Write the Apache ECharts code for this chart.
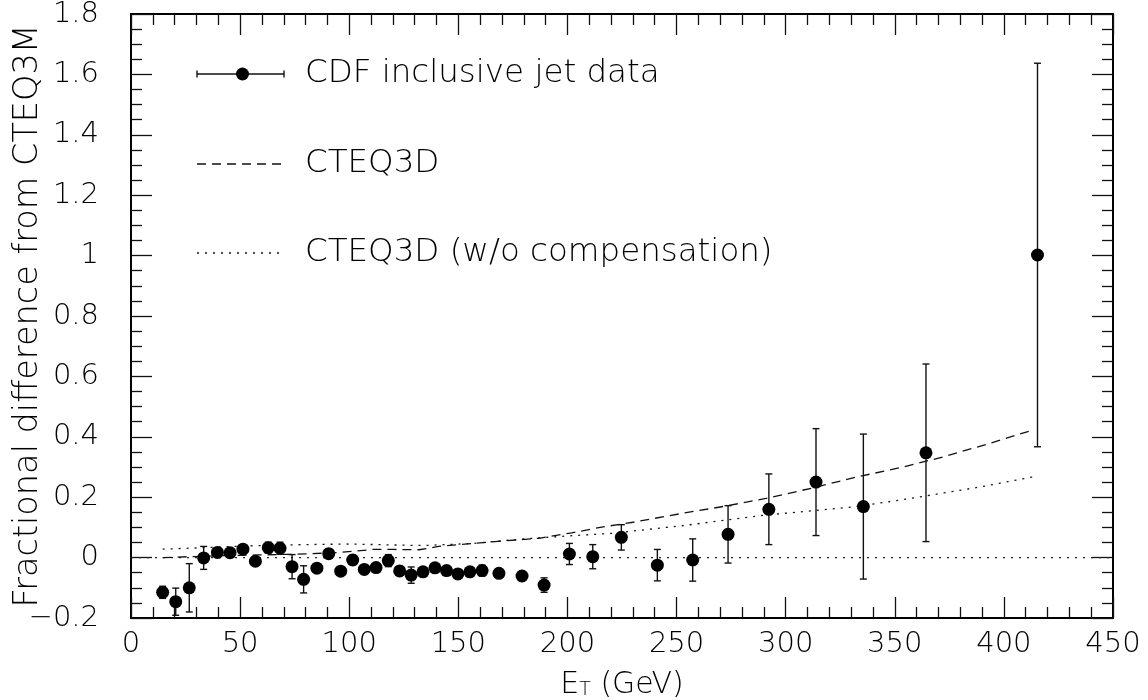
<!DOCTYPE html>
<html>
<head>
<meta charset="utf-8">
<script src="https://cdn.jsdelivr.net/npm/echarts@6/dist/echarts.min.js"></script>
<style>
html,body{margin:0;padding:0;background:#fff;}
#chart{width:1148px;height:700px;}
</style>
</head>
<body>
<div id="chart"></div>
<script>
// ---- data ----
const eT = [14.5,20.5,26.7,33.3,39.6,45.4,51.3,57.0,62.9,68.3,73.8,79.1,85.2,90.6,96.1,101.6,106.9,112.3,117.9,123.1,128.4,133.8,139.3,144.6,149.8,155.3,160.9,168.6,179.2,189.3,200.9,211.6,224.7,241.2,257.4,273.6,292.3,313.9,335.6,364.3,415.4];
const fracDiff = [-0.115,-0.146,-0.100,-0.001,0.017,0.016,0.028,-0.012,0.033,0.031,-0.030,-0.072,-0.035,0.013,-0.045,-0.008,-0.039,-0.033,-0.010,-0.044,-0.058,-0.047,-0.034,-0.043,-0.054,-0.047,-0.043,-0.052,-0.061,-0.091,0.012,0.003,0.067,-0.025,-0.008,0.077,0.160,0.250,0.169,0.347,1.002];
const fracErr = [0.020,0.045,0.080,0.038,0.010,0.010,0.010,0.012,0.018,0.020,0.040,0.045,0.010,0.015,0.008,0.015,0.010,0.010,0.020,0.015,0.027,0.010,0.010,0.010,0.010,0.010,0.018,0.010,0.010,0.024,0.035,0.040,0.042,0.052,0.070,0.095,0.117,0.177,0.240,0.294,0.635];

const cteq3dX = [14.5,26,40,59,74,90,97,111,120,132,141,157,172,187,202,215,230,253,272,291,312,332,352,372,392,414];
const cteq3dY = [0.000,0.003,0.006,0.009,0.011,0.015,0.018,0.027,0.027,0.026,0.037,0.047,0.056,0.064,0.082,0.100,0.117,0.147,0.170,0.196,0.230,0.266,0.297,0.333,0.375,0.424];

const noCompX = [14.5,30,54,80,100,119,134,157,180,203,220,253,291,330,352,364,390,414];
const noCompY = [0.028,0.032,0.039,0.043,0.045,0.042,0.040,0.047,0.062,0.073,0.080,0.106,0.141,0.167,0.190,0.204,0.235,0.268];

const zeroX = [0, 450];
const zeroY = [0, 0];

const yTickValues = [-0.2,0,0.2,0.4,0.6,0.8,1,1.2,1.4,1.6,1.8];
const yTickLabels = ['\u22120.2','0','0.2','0.4','0.6','0.8','1','1.2','1.4','1.6','1.8'];
const xTickValues = [0,50,100,150,200,250,300,350,400,450];
const xTickLabels = ['0','50','100','150','200','250','300','350','400','450'];

const legendNames = ['CDF inclusive jet data','CTEQ3D','CTEQ3D (w/o compensation)'];
const xTitle = 'E';
const xTitleSub = 'T';
const xTitleRest = ' (GeV)';
const yTitle = 'Fractional difference from CTEQ3M';

// ---- build ----
const FONT = "'DejaVu Sans ExtraLight', 'DejaVu Sans'";
const FW = 200;
const pts = eT.map((x,i)=>[x, fracDiff[i], fracErr[i]]);
const zip = (a,b)=>a.map((v,i)=>[v,b[i]]);

function lookup(vals, labels, v){
  let best=0, bd=1e9;
  vals.forEach((t,i)=>{const d=Math.abs(t-v); if(d<bd){bd=d;best=i;}});
  return bd<1e-6 ? labels[best] : '';
}

const chart = echarts.init(document.getElementById('chart'), null, {renderer:'canvas'});

const axisCommonX = {
  type:'value', min:0, max:450, interval:50,
  axisLine:{show:true, onZero:false, lineStyle:{color:'#000', width:2}},
  axisTick:{show:true, inside:true, length:21, lineStyle:{color:'#111', width:1.3}},
  minorTick:{show:true, splitNumber:5, length:11, lineStyle:{color:'#111', width:1.3}},
  splitLine:{show:false}, minorSplitLine:{show:false}
};
const axisCommonY = {
  type:'value', min:-0.2, max:1.8, interval:0.2,
  axisLine:{show:true, onZero:false, lineStyle:{color:'#000', width:2}},
  axisTick:{show:true, inside:true, length:21, lineStyle:{color:'#111', width:1.3}},
  minorTick:{show:true, splitNumber:4, length:11, lineStyle:{color:'#111', width:1.3}},
  splitLine:{show:false}, minorSplitLine:{show:false}
};

const legendLeft = 197, legendRight = 284, legendText = 305;
const legendY = [74, 164, 253];
const LFS = 32.5;

const option = {
  animation:false,
  backgroundColor:'#fff',
  grid:{left:131, right:35, top:14, bottom:82, containLabel:false, outerBoundsMode:'none'},
  xAxis:[
    Object.assign({}, axisCommonX, {
      position:'bottom',
      axisLabel:{show:true, margin:12, color:'#000', fontSize:29, fontFamily:FONT, fontWeight:FW,
        formatter:(v)=>lookup(xTickValues, xTickLabels, v)},
      name: '{e|'+xTitle+'}{s|'+xTitleSub+'}{e|'+xTitleRest+'}',
      nameLocation:'middle', nameGap:48, nameMoveOverlap:false,
      nameTextStyle:{rich:{
        e:{fontSize:30, fontFamily:FONT, fontWeight:FW, color:'#000', verticalAlign:'bottom', lineHeight:34},
        s:{fontSize:19, fontFamily:FONT, fontWeight:FW, color:'#000', verticalAlign:'bottom', lineHeight:26}
      }}
    }),
    Object.assign({}, axisCommonX, {position:'top', axisLabel:{show:false}})
  ],
  yAxis:[
    Object.assign({}, axisCommonY, {
      position:'left',
      axisLabel:{show:true, margin:32, color:'#000', fontSize:29, fontFamily:FONT, fontWeight:FW,
        formatter:(v)=>lookup(yTickValues, yTickLabels, v)},
      name: yTitle, nameLocation:'middle', nameRotate:90, nameGap:86, nameMoveOverlap:false,
      nameTextStyle:{fontSize:33.5, fontFamily:FONT, fontWeight:FW, color:'#000'}
    }),
    Object.assign({}, axisCommonY, {position:'right', axisLabel:{show:false}})
  ],
  series:[
    {
      name:'zero', type:'line', data:zip(zeroX, zeroY), symbol:'none', silent:true,
      lineStyle:{color:'#222', width:1.3, type:[2,6]}, z:1
    },
    {
      name:legendNames[1], type:'line', data:zip(cteq3dX, cteq3dY), symbol:'none', silent:true,
      lineStyle:{color:'#111', width:1.3, type:[9,6]}, z:2
    },
    {
      name:legendNames[2], type:'line', data:zip(noCompX, noCompY), symbol:'none', silent:true,
      lineStyle:{color:'#111', width:1.3, type:[2,6]}, z:2
    },
    {
      name:'errors', type:'custom', data:pts, z:3, silent:true,
      renderItem:function(params, api){
        const x = api.value(0), y = api.value(1), e = api.value(2);
        const top = api.coord([x, y+e]);
        const bot = api.coord([x, y-e]);
        const cap = 3.5;
        const st = {stroke:'#111', lineWidth:1.4};
        return {type:'group', children:[
          {type:'line', shape:{x1:top[0], y1:top[1], x2:bot[0], y2:bot[1]}, style:st},
          {type:'line', shape:{x1:top[0]-cap, y1:top[1], x2:top[0]+cap, y2:top[1]}, style:st},
          {type:'line', shape:{x1:bot[0]-cap, y1:bot[1], x2:bot[0]+cap, y2:bot[1]}, style:st}
        ]};
      },
      encode:{x:0, y:1}
    },
    {
      name:legendNames[0], type:'scatter', data:pts.map(p=>[p[0],p[1]]),
      symbol:'circle', symbolSize:13, itemStyle:{color:'#000', opacity:1}, z:4
    }
  ],
  graphic:[
    {type:'line', shape:{x1:legendLeft, y1:legendY[0], x2:legendRight, y2:legendY[0]}, style:{stroke:'#111', lineWidth:1.4}},
    {type:'line', shape:{x1:legendLeft, y1:legendY[0]-3.5, x2:legendLeft, y2:legendY[0]+3.5}, style:{stroke:'#111', lineWidth:1.4}},
    {type:'line', shape:{x1:legendRight, y1:legendY[0]-3.5, x2:legendRight, y2:legendY[0]+3.5}, style:{stroke:'#111', lineWidth:1.4}},
    {type:'circle', shape:{cx:(legendLeft+legendRight)/2+2, cy:legendY[0], r:6.5}, style:{fill:'#000'}},
    {type:'text', x:legendText, y:legendY[0], style:{text:legendNames[0], fontSize:LFS, fontFamily:FONT, fontWeight:FW, fill:'#000', verticalAlign:'middle'}},
    {type:'line', shape:{x1:legendLeft, y1:legendY[1], x2:legendRight, y2:legendY[1]}, style:{stroke:'#111', lineWidth:1.3, lineDash:[9,6]}},
    {type:'text', x:legendText, y:legendY[1], style:{text:legendNames[1], fontSize:LFS, fontFamily:FONT, fontWeight:FW, fill:'#000', verticalAlign:'middle'}},
    {type:'line', shape:{x1:legendLeft, y1:legendY[2], x2:legendRight, y2:legendY[2]}, style:{stroke:'#111', lineWidth:1.3, lineDash:[2,6]}},
    {type:'text', x:legendText, y:legendY[2], style:{text:legendNames[2], fontSize:LFS, fontFamily:FONT, fontWeight:FW, fill:'#000', verticalAlign:'middle'}}
  ]
};
chart.setOption(option);
</script>
</body>
</html>
